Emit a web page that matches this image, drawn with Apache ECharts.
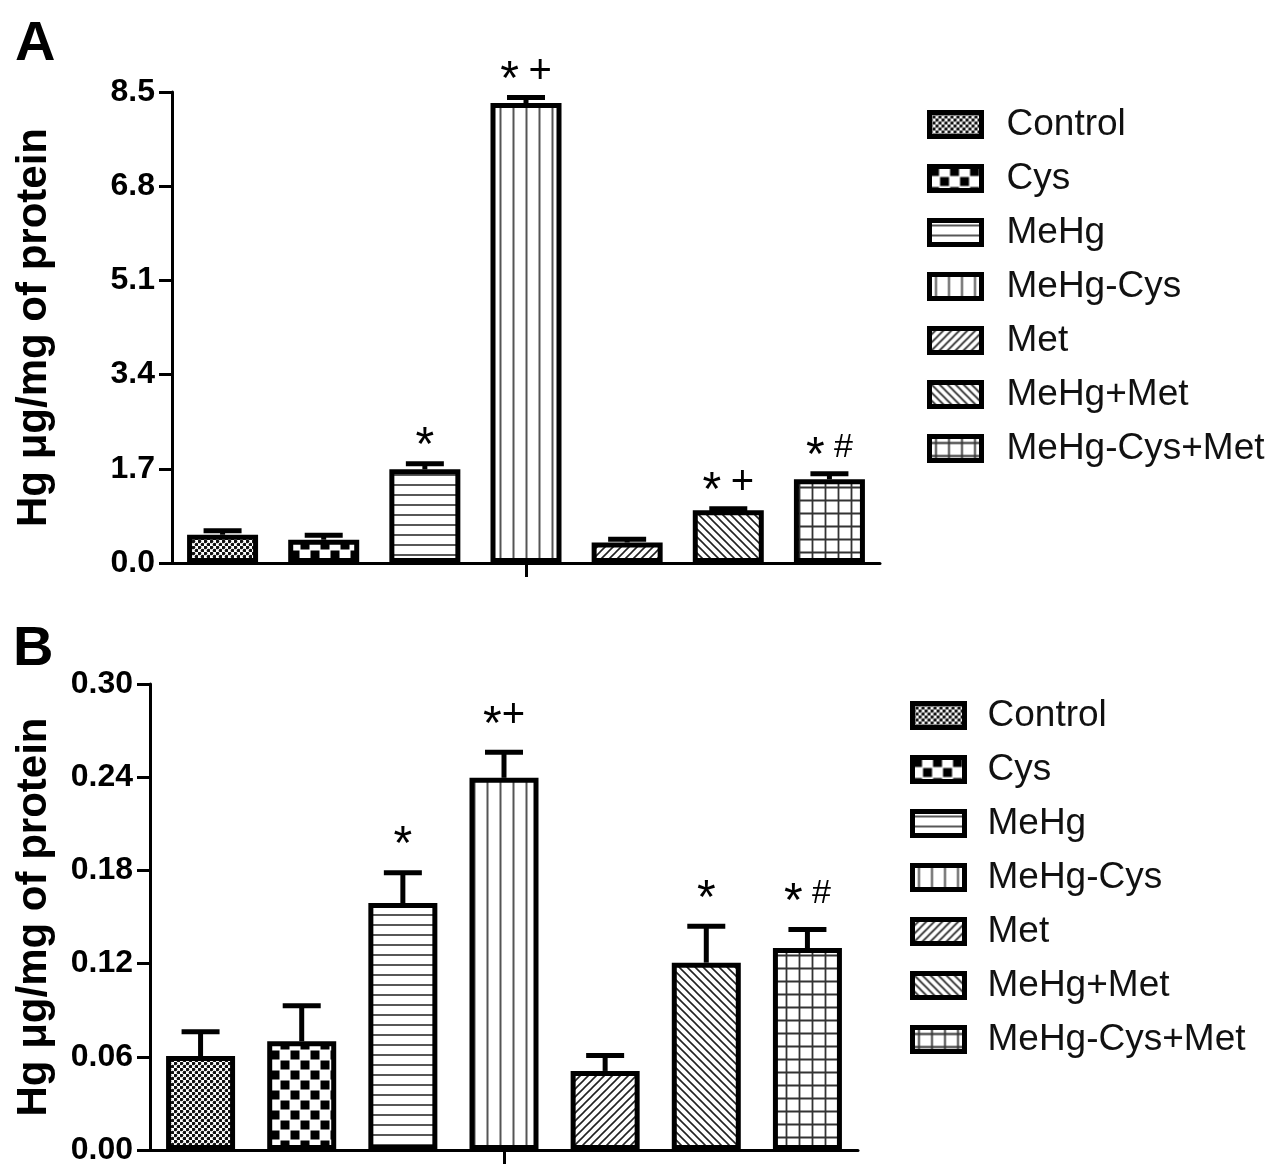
<!DOCTYPE html>
<html>
<head>
<meta charset="utf-8">
<script src="https://cdn.jsdelivr.net/npm/echarts@6/dist/echarts.min.js"></script>
<style>
  html, body { margin: 0; padding: 0; background: #fff; }
  #chart { width: 1277px; height: 1166px; }
</style>
</head>
<body>
<div id="chart"></div>
<script>
// ---------------- DATA ----------------
const groups = ['Control', 'Cys', 'MeHg', 'MeHg-Cys', 'Met', 'MeHg+Met', 'MeHg-Cys+Met'];

const meanA = [0.51, 0.42, 1.69, 8.30, 0.37, 0.95, 1.51];
const errA  = [0.07, 0.08, 0.10, 0.10, 0.06, 0.03, 0.10];
const markA = ['', '', '*', '* +', '', '* +', '* #'];
const ticksA = { min: 0, max: 8.5, step: 1.7, digits: 1 };

const meanB = [0.0605, 0.070, 0.159, 0.2396, 0.0509, 0.1206, 0.130];
const errB  = [0.0156, 0.0228, 0.0195, 0.0164, 0.0099, 0.0234, 0.012];
const markB = ['', '', '*', '*+', '', '*', '* #'];
const ticksB = { min: 0, max: 0.30, step: 0.06, digits: 2 };

const yName = 'Hg \u03bcg/mg of protein';

// ---------------- PATTERNS ----------------
function tile(w, h, draw) {
  const c = document.createElement('canvas');
  c.width = w; c.height = h;
  const g = c.getContext('2d');
  g.fillStyle = '#fff'; g.fillRect(0, 0, w, h);
  draw(g, w, h);
  return { image: c, repeat: 'repeat' };
}
const patterns = [
  // Control: fine dotted
  tile(6, 6, (g) => {
    g.fillStyle = '#111';
    [[1.5, 1.5], [4.5, 4.5]].forEach(p => { g.beginPath(); g.arc(p[0], p[1], 1.8, 0, Math.PI * 2); g.fill(); });
  }),
  // Cys: coarse checker
  tile(20, 20, (g) => {
    g.fillStyle = '#000';
    g.fillRect(0.5, 0.5, 9, 9); g.fillRect(10.5, 10.5, 9, 9);
  }),
  // MeHg: horizontal lines
  tile(10, 10, (g) => {
    g.strokeStyle = '#444'; g.lineWidth = 1.8;
    g.beginPath(); g.moveTo(0, 5); g.lineTo(10, 5); g.stroke();
  }),
  // MeHg-Cys: vertical lines
  tile(13, 13, (g) => {
    g.strokeStyle = '#555'; g.lineWidth = 2;
    g.beginPath(); g.moveTo(6.5, 0); g.lineTo(6.5, 13); g.stroke();
  }),
  // Met: "/" diagonals
  tile(8, 8, (g) => {
    g.strokeStyle = '#222'; g.lineWidth = 1.6;
    g.beginPath();
    g.moveTo(0, 8); g.lineTo(8, 0);
    g.moveTo(-2, 2); g.lineTo(2, -2);
    g.moveTo(6, 10); g.lineTo(10, 6);
    g.stroke();
  }),
  // MeHg+Met: "\" diagonals
  tile(8, 8, (g) => {
    g.strokeStyle = '#222'; g.lineWidth = 1.6;
    g.beginPath();
    g.moveTo(0, 0); g.lineTo(8, 8);
    g.moveTo(6, -2); g.lineTo(10, 2);
    g.moveTo(-2, 6); g.lineTo(2, 10);
    g.stroke();
  }),
  // MeHg-Cys+Met: grid
  tile(13, 13, (g) => {
    g.strokeStyle = '#333'; g.lineWidth = 1.8;
    g.beginPath();
    g.moveTo(6.5, 0); g.lineTo(6.5, 13);
    g.moveTo(0, 6.5); g.lineTo(13, 6.5);
    g.stroke();
  })
];

// ---------------- CHART ----------------
const FONT = 'Liberation Sans, Arial, Helvetica, sans-serif';
const chart = echarts.init(document.getElementById('chart'), null, { renderer: 'canvas' });

function richMark(s) {
  return s.split('').map(ch => ch === '*' ? '{s|*}' : ch === '+' ? '{p|+}' : ch === '#' ? '{h|#}' : ch).join('');
}

function xAxisFor(gi) {
  return {
    type: 'category', gridIndex: gi, data: groups,
    axisLine: { lineStyle: { color: '#000', width: 3 } },
    axisTick: { show: true, alignWithLabel: true, interval: (i) => i === 3, length: 14, lineStyle: { color: '#000', width: 3 } },
    axisLabel: { show: false },
    splitLine: { show: false }
  };
}
function yAxisFor(gi, t, nameGap) {
  return {
    type: 'value', gridIndex: gi, min: t.min, max: t.max, interval: t.step,
    axisLine: { show: true, lineStyle: { color: '#000', width: 3 } },
    axisTick: { show: true, length: 13, lineStyle: { color: '#000', width: 3 } },
    axisLabel: { color: '#000', fontSize: 32, fontWeight: 'bold', fontFamily: FONT, margin: 17,
                 formatter: (v) => v.toFixed(t.digits) },
    splitLine: { show: false },
    name: yName, nameLocation: 'middle', nameGap: nameGap,
    nameTextStyle: { color: '#000', fontSize: 42, fontWeight: 'bold', fontFamily: FONT }
  };
}

function barSeries(gi, means, width) {
  return groups.map((name, i) => ({
    type: 'bar', name: name, xAxisIndex: gi, yAxisIndex: gi,
    data: means.map((v, j) => (j === i ? v : '-')),
    barWidth: width, barGap: '-100%',
    itemStyle: { color: patterns[i], borderColor: '#000', borderWidth: 5 },
    emphasis: { disabled: true },
    silent: true, z: 2
  }));
}

function errSeries(gi, means, errs, marks, textOffset) {
  return {
    type: 'custom', xAxisIndex: gi, yAxisIndex: gi, z: 4, silent: true,
    data: means.map((m, i) => [i, m, errs[i]]),
    renderItem: (params, api) => {
      const x = api.value(0), m = api.value(1), e = api.value(2);
      const p0 = api.coord([x, m]);
      const p1 = api.coord([x, m + e]);
      const children = [
        { type: 'line', shape: { x1: p0[0], y1: p0[1], x2: p1[0], y2: p1[1] }, style: { stroke: '#000', lineWidth: 5 } },
        { type: 'line', shape: { x1: p1[0] - 19, y1: p1[1], x2: p1[0] + 19, y2: p1[1] }, style: { stroke: '#000', lineWidth: 5 } }
      ];
      const mk = marks[params.dataIndex];
      if (mk) {
        children.push({
          type: 'text', x: p1[0], y: p1[1] - textOffset,
          style: {
            text: richMark(mk), align: 'center', verticalAlign: 'middle', fill: '#000',
            fontFamily: FONT, fontSize: 34,
            rich: {
              s: { fontSize: 48, fontFamily: FONT, fill: '#000', padding: [18, 0, 0, 0] },
              p: { fontSize: 40, fontFamily: FONT, fill: '#000' },
              h: { fontSize: 34, fontFamily: FONT, fill: '#000' }
            }
          }
        });
      }
      return { type: 'group', children };
    }
  };
}

function legendFor(left, top, textGap) {
  return {
    orient: 'vertical', left: left, top: top, padding: 0,
    itemWidth: 52, itemHeight: 24, itemGap: 17, icon: 'rect',
    selectedMode: false,
    itemStyle: { borderColor: '#000', borderWidth: 5 },
    textStyle: { fontSize: 37, lineHeight: 37, color: '#111', fontFamily: FONT, padding: [0, 0, 0, textGap] },
    data: groups
  };
}

const option = {
  backgroundColor: '#fff',
  animation: false,
  title: [
    { text: 'A', left: 10, top: 12, textStyle: { fontSize: 56, fontWeight: 'bold', color: '#000', fontFamily: FONT } },
    { text: 'B', left: 8, top: 617, textStyle: { fontSize: 56, fontWeight: 'bold', color: '#000', fontFamily: FONT } }
  ],
  legend: [legendFor(927, 106, 20), legendFor(910, 697, 18)],
  grid: [
    { left: 172, top: 92, width: 708, height: 471 },
    { left: 150, top: 684, width: 708, height: 469 }
  ],
  xAxis: [xAxisFor(0), xAxisFor(1)],
  yAxis: [yAxisFor(0, ticksA, 117), yAxisFor(1, ticksB, 95)],
  series: [].concat(
    barSeries(0, meanA, 71),
    barSeries(1, meanB, 69),
    [errSeries(0, meanA, errA, markA, 26), errSeries(1, meanB, errB, markB, 36)]
  )
};
chart.setOption(option);
</script>
</body>
</html>
